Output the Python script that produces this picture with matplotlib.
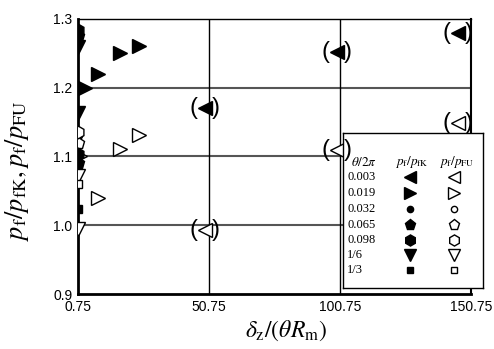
import numpy as np
import matplotlib.pyplot as plt

plt.rcParams['mathtext.fontset'] = 'stix'

# series of theta/2pi
theta_labels = ['0.003', '0.019', '0.032', '0.065', '0.098', '1/6', '1/3']
theta_markers = ['<', '>', 'o', 'p', 'h', 'v', 's']

# p_f/p_fK (filled) and p_f/p_FU (open) points per series
pk_x = {
    '0.003': [49.4, 99.6, 145.8],
    '0.019': [3.4, 8.4, 16.9, 24.2],
    '0.032': [0.75],
    '0.065': [0.75, 0.75],
    '0.098': [0.75, 0.75],
    '1/6':   [0.75, 0.75],
    '1/3':   [0.75],
}
pk_y = {
    '0.003': [1.171, 1.252, 1.280],
    '0.019': [1.200, 1.220, 1.251, 1.261],
    '0.032': [1.132],
    '0.065': [1.276, 1.091],
    '0.098': [1.284, 1.103],
    '1/6':   [1.259, 1.164],
    '1/3':   [1.023],
}
pu_x = {
    '0.003': [49.4, 99.6, 145.8],
    '0.019': [1.5, 8.4, 16.9, 24.2],
    '0.032': [0.75],
    '0.065': [0.75],
    '0.098': [0.75],
    '1/6':   [0.75, 0.75],
    '1/3':   [0.75],
}
pu_y = {
    '0.003': [0.993, 1.110, 1.149],
    '0.019': [1.100, 1.040, 1.111, 1.131],
    '0.032': [1.100],
    '0.065': [1.120],
    '0.098': [1.135],
    '1/6':   [1.071, 0.994],
    '1/3':   [1.060],
}
# points drawn inside parentheses
paren_series = '0.003'

x_ticks = [0.75, 50.75, 100.75, 150.75]
y_ticks = [0.9, 1.0, 1.1, 1.2, 1.3]
hgrid = [1.0, 1.1, 1.2]
vgrid = [50.75, 100.75]

data_size = {'<': 10, '>': 10, 'o': 6, 'p': 9, 'h': 9, 'v': 10, 's': 6}
leg_size = {'<': 9, '>': 9, 'o': 4.5, 'p': 8, 'h': 8, 'v': 9, 's': 4.5}

W, H = 494, 349
fig = plt.figure(figsize=(W / 100, H / 100), dpi=100)
ax = fig.add_axes([78 / W, 1 - 294 / H, 393 / W, 275 / H])

for y in hgrid:
    ax.plot([x_ticks[0], x_ticks[-1]], [y, y], color='#555555', lw=1.5, zorder=1)
for x in vgrid:
    ax.plot([x, x], [y_ticks[0], y_ticks[-1]], color='black', lw=1.0, zorder=1)

for lab, m in zip(theta_labels, theta_markers):
    ms = data_size[m]
    ax.plot(pk_x[lab], pk_y[lab], linestyle='none', marker=m, ms=ms,
            mfc='black', mec='black', mew=1.0, zorder=3, clip_on=True)
    ax.plot(pu_x[lab], pu_y[lab], linestyle='none', marker=m, ms=ms,
            mfc='white', mec='black', mew=1.0, zorder=3, clip_on=True)

ax.set_xlim(x_ticks[0], x_ticks[-1])
ax.set_ylim(y_ticks[0], y_ticks[-1])
ax.set_xticks(x_ticks)
ax.set_xticklabels([f'{v:.2f}' for v in x_ticks])
ax.set_yticks(y_ticks)
ax.set_yticklabels([f'{v:.1f}' for v in y_ticks])
ax.tick_params(length=0, pad=4, labelsize=10)
for t in ax.get_xticklabels() + ax.get_yticklabels():
    t.set_family('Liberation Sans')

ax.spines['left'].set_linewidth(2)
ax.spines['bottom'].set_linewidth(2)
ax.spines['top'].set_linewidth(1)
ax.spines['right'].set_linewidth(1.5)

ax.set_ylabel(r'$p_{\rm f}/p_{\rm fK}, p_{\rm f}/p_{\rm FU}$', fontsize=19)
ax.yaxis.set_label_coords(-0.12, 0.45)
ax.set_xlabel(r'$\delta_{\rm z}/(\theta R_{\rm m})$', fontsize=17)
ax.xaxis.set_label_coords(0.53, -0.09)

# legend box drawn over the plot
lx0, lx1, ly0, ly1 = 343, 483, 133, 288
lax = fig.add_axes([lx0 / W, 1 - ly1 / H, (lx1 - lx0) / W, (ly1 - ly0) / H], zorder=6)
lax.set_xlim(lx0, lx1)
lax.set_ylim(ly1, ly0)
lax.set_xticks([])
lax.set_yticks([])
for s in lax.spines.values():
    s.set_linewidth(1)

# parentheses round the 0.003 points, drawn on top of everything
for xs, ys in [(pk_x[paren_series], pk_y[paren_series]),
               (pu_x[paren_series], pu_y[paren_series])]:
    for x, y in zip(xs, ys):
        lax.annotate('(', (x, y), xycoords=ax.transData, xytext=(-8.5, 0),
                     textcoords='offset points', ha='center', va='center',
                     fontsize=17, family='Liberation Sans', annotation_clip=False)
        lax.annotate(')', (x, y), xycoords=ax.transData, xytext=(7.5, 0),
                     textcoords='offset points', ha='center', va='center',
                     fontsize=17, family='Liberation Sans', annotation_clip=False)

col_lab, col_k, col_u = 347, 410, 454
row_head = 162
rows = [177, 193, 209, 225, 240, 255, 270]
lax.text(col_lab + 4, row_head, r'$\theta/2\pi$', fontsize=9.5, va='center', ha='left')
lax.text(col_k + 2, row_head, r'$p_{\rm f}/p_{\rm fK}$', fontsize=9.5, va='center', ha='center')
lax.text(col_u + 3, row_head, r'$p_{\rm f}/p_{\rm FU}$', fontsize=9.5, va='center', ha='center')
for lab, m, yr in zip(theta_labels, theta_markers, rows):
    lax.text(col_lab, yr, lab, fontsize=9, family='Liberation Serif', va='center', ha='left')
    lax.plot([col_k], [yr], linestyle='none', marker=m, ms=leg_size[m],
             mfc='black', mec='black', mew=1.0)
    lax.plot([col_u], [yr], linestyle='none', marker=m, ms=leg_size[m],
             mfc='white', mec='black', mew=1.0)

fig.savefig('out.png', dpi=100)
